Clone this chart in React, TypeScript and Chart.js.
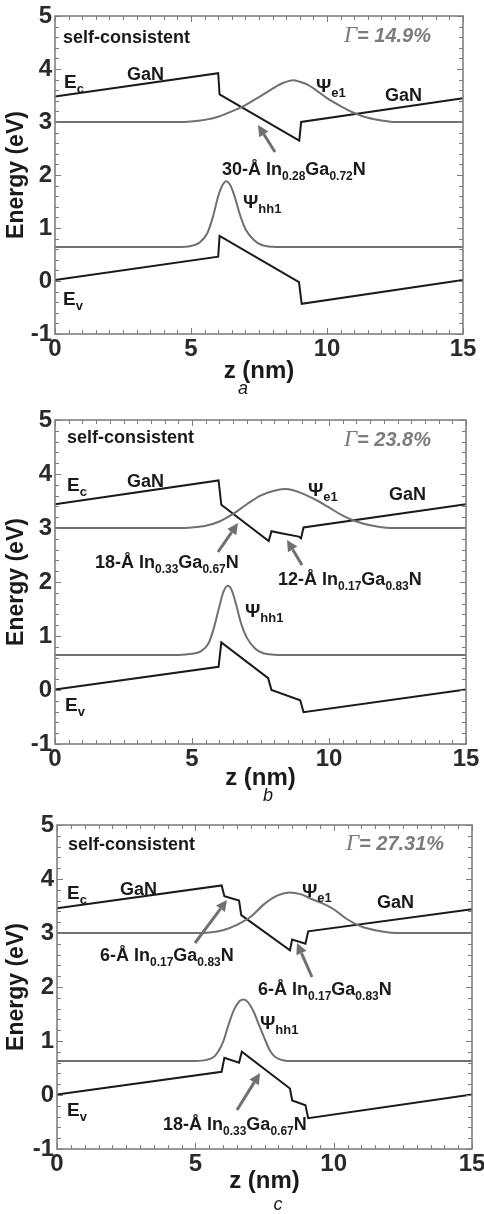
import React, { useEffect, useRef } from "react";
import { Chart, registerables } from "chart.js";
Chart.register(...registerables);

type Pt = [number, number];

const xTickValues = [0, 5, 10, 15];
const yTickValues = [-1, 0, 1, 2, 3, 4, 5];
const captions = ["a", "b", "c"];
const gammaLabels = ["14.9%", "23.8%", "27.31%"];

// ---- Panel a ----
const ecA: Pt[] = [[0, 3.48], [6.0, 3.92], [6.05, 3.52], [8.98, 2.65], [9.05, 3.0], [15, 3.45]];
const evA: Pt[] = [[0, 0.02], [6.0, 0.46], [6.05, 0.85], [8.97, -0.02], [9.07, -0.43], [15, 0.02]];
const psiEA: Pt[] = [[0, 3.0], [4.5, 3.0], [5.0, 3.01], [5.5, 3.04], [6.0, 3.1], [6.5, 3.2], [7.0, 3.32], [7.5, 3.47], [8.0, 3.63], [8.4, 3.74], [8.75, 3.79], [9.0, 3.76], [9.3, 3.7], [9.6, 3.6], [10.0, 3.45], [10.5, 3.3], [11.0, 3.17], [11.5, 3.08], [12.0, 3.03], [12.5, 3.0], [15, 3.0]];
const psiHA: Pt[] = [[0, 0.64], [4.5, 0.64], [5.0, 0.66], [5.3, 0.72], [5.6, 0.9], [5.8, 1.2], [6.0, 1.6], [6.15, 1.8], [6.3, 1.88], [6.45, 1.8], [6.6, 1.6], [6.8, 1.25], [7.0, 0.98], [7.3, 0.78], [7.6, 0.68], [8.0, 0.645], [8.3, 0.64], [15, 0.64]];

// ---- Panel b ----
const ecB: Pt[] = [[0, 3.44], [5.97, 3.88], [6.07, 3.43], [7.8, 2.76], [7.9, 2.94], [8.3, 2.9], [8.9, 2.84], [8.98, 2.81], [9.07, 3.01], [15, 3.44]];
const evB: Pt[] = [[0, 0.01], [5.97, 0.43], [6.07, 0.88], [7.78, 0.22], [7.9, 0.0], [8.95, -0.19], [9.07, -0.41], [15, 0.01]];
const psiEB: Pt[] = [[0, 3.0], [4.5, 3.0], [5.0, 3.01], [5.5, 3.04], [6.0, 3.12], [6.5, 3.26], [7.0, 3.44], [7.5, 3.6], [8.0, 3.69], [8.35, 3.72], [8.7, 3.7], [9.2, 3.6], [9.6, 3.5], [10.0, 3.38], [10.5, 3.23], [11.0, 3.12], [11.5, 3.05], [12.0, 3.01], [12.5, 3.0], [15, 3.0]];
const psiHB: Pt[] = [[0, 0.65], [4.5, 0.65], [5.0, 0.67], [5.3, 0.71], [5.6, 0.86], [5.8, 1.15], [6.0, 1.55], [6.15, 1.82], [6.3, 1.93], [6.45, 1.85], [6.6, 1.6], [6.8, 1.22], [7.0, 0.97], [7.3, 0.77], [7.6, 0.68], [8.0, 0.655], [8.4, 0.65], [15, 0.65]];

// ---- Panel c ----
const ecC: Pt[] = [[0, 3.46], [5.95, 3.88], [6.05, 3.68], [6.58, 3.6], [6.66, 3.33], [8.42, 2.68], [8.5, 2.88], [8.98, 2.8], [9.08, 3.03], [15, 3.44]];
const evC: Pt[] = [[0, 0.01], [5.95, 0.43], [6.05, 0.69], [6.58, 0.6], [6.68, 0.8], [8.42, 0.12], [8.5, -0.1], [8.98, -0.19], [9.08, -0.43], [15, 0.01]];
const psiEC: Pt[] = [[0, 3.0], [5.0, 3.0], [5.5, 3.01], [6.0, 3.05], [6.5, 3.15], [7.0, 3.3], [7.5, 3.54], [8.0, 3.7], [8.4, 3.75], [8.8, 3.72], [9.2, 3.63], [9.6, 3.55], [10.0, 3.44], [10.5, 3.25], [11.0, 3.12], [11.5, 3.05], [12.0, 3.01], [12.5, 3.0], [15, 3.0]];
const psiHC: Pt[] = [[0, 0.63], [5.0, 0.63], [5.4, 0.65], [5.7, 0.72], [6.0, 0.98], [6.2, 1.3], [6.4, 1.58], [6.6, 1.74], [6.75, 1.77], [6.9, 1.72], [7.1, 1.55], [7.3, 1.3], [7.5, 1.05], [7.7, 0.82], [7.9, 0.7], [8.2, 0.64], [8.5, 0.63], [15, 0.63]];

const SANS = "'Liberation Sans', Arial, sans-serif";
const SERIF = "'Liberation Serif', 'Times New Roman', serif";
const INK = "#1a1a1a";
const GRAY = "#707070";

type Part = { t: string; sub?: boolean };
type Note =
  | { kind: "text"; x: number; y: number; parts: Part[]; size?: number }
  | { kind: "gamma"; x: number; y: number; value: string }
  | { kind: "arrow"; x1: number; y1: number; x2: number; y2: number };

const inLabel = (w: string, a: string, b: string): Part[] => [
  { t: w + "-Å In" }, { t: a, sub: true }, { t: "Ga" }, { t: b, sub: true }, { t: "N" },
];

const panels = [
  {
    top: 0, height: 400, left: 55, right: 463, areaTop: 16, areaBottom: 334, titlePad: 14,
    captionX: 243, captionY: 394,
    ec: ecA, ev: evA, pe: psiEA, ph: psiHA, gamma: gammaLabels[0], caption: captions[0],
    notes: [
      { kind: "text", x: 63, y: 43, parts: [{ t: "self-consistent" }] },
      { kind: "gamma", x: 344, y: 42, value: gammaLabels[0] },
      { kind: "text", x: 64, y: 88, parts: [{ t: "E" }, { t: "c", sub: true }], size: 19 },
      { kind: "text", x: 127, y: 80, parts: [{ t: "GaN" }] },
      { kind: "text", x: 316, y: 92, parts: [{ t: "Ψ" }, { t: "e1", sub: true }], size: 19 },
      { kind: "text", x: 385, y: 101, parts: [{ t: "GaN" }] },
      { kind: "text", x: 222, y: 175, parts: inLabel("30", "0.28", "0.72") },
      { kind: "arrow", x1: 275, y1: 152, x2: 258, y2: 125 },
      { kind: "text", x: 243, y: 208, parts: [{ t: "Ψ" }, { t: "hh1", sub: true }], size: 19 },
      { kind: "text", x: 63, y: 305, parts: [{ t: "E" }, { t: "v", sub: true }], size: 19 },
    ] as Note[],
  },
  {
    top: 400, height: 405, left: 55, right: 466, areaTop: 20, areaBottom: 344, titlePad: 12,
    captionX: 268, captionY: 401,
    ec: ecB, ev: evB, pe: psiEB, ph: psiHB, gamma: gammaLabels[1], caption: captions[1],
    notes: [
      { kind: "text", x: 67, y: 443, parts: [{ t: "self-consistent" }] },
      { kind: "gamma", x: 344, y: 446, value: gammaLabels[1] },
      { kind: "text", x: 67, y: 491, parts: [{ t: "E" }, { t: "c", sub: true }], size: 19 },
      { kind: "text", x: 127, y: 487, parts: [{ t: "GaN" }] },
      { kind: "text", x: 308, y: 496, parts: [{ t: "Ψ" }, { t: "e1", sub: true }], size: 19 },
      { kind: "text", x: 389, y: 500, parts: [{ t: "GaN" }] },
      { kind: "text", x: 95, y: 568, parts: inLabel("18", "0.33", "0.67") },
      { kind: "arrow", x1: 218, y1: 552, x2: 238, y2: 523 },
      { kind: "text", x: 278, y: 585, parts: inLabel("12", "0.17", "0.83") },
      { kind: "arrow", x1: 302, y1: 565, x2: 287, y2: 540 },
      { kind: "text", x: 245, y: 617, parts: [{ t: "Ψ" }, { t: "hh1", sub: true }], size: 19 },
      { kind: "text", x: 65, y: 711, parts: [{ t: "E" }, { t: "v", sub: true }], size: 19 },
    ] as Note[],
  },
  {
    top: 805, height: 409, left: 57, right: 472, areaTop: 20, areaBottom: 344, titlePad: 18,
    captionX: 278, captionY: 405,
    ec: ecC, ev: evC, pe: psiEC, ph: psiHC, gamma: gammaLabels[2], caption: captions[2],
    notes: [
      { kind: "text", x: 68, y: 850, parts: [{ t: "self-consistent" }] },
      { kind: "gamma", x: 346, y: 850, value: gammaLabels[2] },
      { kind: "text", x: 67, y: 899, parts: [{ t: "E" }, { t: "c", sub: true }], size: 19 },
      { kind: "text", x: 120, y: 895, parts: [{ t: "GaN" }] },
      { kind: "text", x: 302, y: 897, parts: [{ t: "Ψ" }, { t: "e1", sub: true }], size: 19 },
      { kind: "text", x: 377, y: 908, parts: [{ t: "GaN" }] },
      { kind: "text", x: 100, y: 961, parts: inLabel("6", "0.17", "0.83") },
      { kind: "arrow", x1: 195, y1: 943, x2: 227, y2: 900 },
      { kind: "text", x: 258, y: 995, parts: inLabel("6", "0.17", "0.83") },
      { kind: "arrow", x1: 312, y1: 977, x2: 297, y2: 943 },
      { kind: "text", x: 260, y: 1029, parts: [{ t: "Ψ" }, { t: "hh1", sub: true }], size: 19 },
      { kind: "text", x: 67, y: 1116, parts: [{ t: "E" }, { t: "v", sub: true }], size: 19 },
      { kind: "text", x: 163, y: 1130, parts: inLabel("18", "0.33", "0.67") },
      { kind: "arrow", x1: 237, y1: 1110, x2: 260, y2: 1073 },
    ] as Note[],
  },
];

type Panel = (typeof panels)[number];

function drawParts(ctx: CanvasRenderingContext2D, x: number, y: number, parts: Part[], size: number) {
  let cx = x;
  for (const p of parts) {
    const s = p.sub ? Math.round(size * 0.68) : size;
    ctx.font = `bold ${s}px ${SANS}`;
    ctx.fillText(p.t, cx, p.sub ? y + size * 0.28 : y);
    cx += ctx.measureText(p.t).width;
  }
}

function drawArrow(ctx: CanvasRenderingContext2D, x1: number, y1: number, x2: number, y2: number) {
  const ang = Math.atan2(y2 - y1, x2 - x1);
  const head = 11;
  const hw = 5.5;
  const bx = x2 - head * Math.cos(ang);
  const by = y2 - head * Math.sin(ang);
  ctx.save();
  ctx.strokeStyle = GRAY;
  ctx.fillStyle = GRAY;
  ctx.lineWidth = 3;
  ctx.beginPath();
  ctx.moveTo(x1, y1);
  ctx.lineTo(bx, by);
  ctx.stroke();
  ctx.beginPath();
  ctx.moveTo(x2, y2);
  ctx.lineTo(bx + hw * Math.sin(ang), by - hw * Math.cos(ang));
  ctx.lineTo(bx - hw * Math.sin(ang), by + hw * Math.cos(ang));
  ctx.closePath();
  ctx.fill();
  ctx.restore();
}

function makePlugin(panel: Panel) {
  return {
    id: "decor",
    afterDatasetsDraw(chart: any) {
      const ctx: CanvasRenderingContext2D = chart.ctx;
      const { left, right, top, bottom } = chart.chartArea;
      const xs = chart.scales.x;
      const ys = chart.scales.y;
      ctx.save();
      // minor + major ticks on all four sides (inward)
      ctx.strokeStyle = "#7a7a7a";
      ctx.lineWidth = 1;
      ctx.beginPath();
      for (let i = 0; i <= 30; i++) {
        const v = i * 0.5;
        const px = Math.round(xs.getPixelForValue(v)) + 0.5;
        const len = i % 10 === 0 ? 6 : 4;
        ctx.moveTo(px, bottom);
        ctx.lineTo(px, bottom - len);
        ctx.moveTo(px, top);
        ctx.lineTo(px, top + len);
      }
      for (let i = 0; i <= 30; i++) {
        const v = -1 + i * 0.2;
        const py = Math.round(ys.getPixelForValue(v)) + 0.5;
        const len = i % 5 === 0 ? 6 : 4;
        ctx.moveTo(left, py);
        ctx.lineTo(left + len, py);
        ctx.moveTo(right, py);
        ctx.lineTo(right - len, py);
      }
      ctx.stroke();
      // frame
      ctx.strokeStyle = "#808080";
      ctx.lineWidth = 1.6;
      ctx.strokeRect(left, top, right - left, bottom - top);

      // annotations
      ctx.textBaseline = "alphabetic";
      ctx.textAlign = "left";
      for (const n of panel.notes) {
        if (n.kind === "text") {
          ctx.fillStyle = INK;
          drawParts(ctx, n.x, n.y - panel.top, n.parts, n.size ?? 18);
        } else if (n.kind === "gamma") {
          ctx.fillStyle = "#7c7c7c";
          ctx.font = `italic 23px ${SERIF}`;
          ctx.fillText("Γ", n.x, n.y - panel.top);
          const w = ctx.measureText("Γ").width;
          ctx.font = `italic bold 20px ${SANS}`;
          ctx.fillText("= " + n.value, n.x + w, n.y - panel.top);
        } else {
          drawArrow(ctx, n.x1, n.y1 - panel.top, n.x2, n.y2 - panel.top);
        }
      }
      // caption
      ctx.fillStyle = INK;
      ctx.textAlign = "center";
      ctx.font = `italic 18px ${SANS}`;
      ctx.fillText(panel.caption, panel.captionX, panel.captionY);
      ctx.restore();
    },
  };
}

const toXY = (pts: Pt[]) => pts.map(([x, y]) => ({ x, y }));

function PanelChart({ panel }: { panel: Panel }) {
  const ref = useRef<HTMLCanvasElement | null>(null);
  useEffect(() => {
    if (!ref.current) return;
    const tickFont = { family: SANS, size: 24, weight: "bold" as const };
    const chart = new Chart(ref.current, {
      type: "line",
      data: {
        datasets: [
          { label: "psi_e1", data: toXY(panel.pe), borderColor: GRAY, borderWidth: 2, pointRadius: 0, cubicInterpolationMode: "monotone" },
          { label: "psi_hh1", data: toXY(panel.ph), borderColor: GRAY, borderWidth: 2, pointRadius: 0, cubicInterpolationMode: "monotone" },
          { label: "Ec", data: toXY(panel.ec), borderColor: INK, borderWidth: 2, pointRadius: 0, tension: 0 },
          { label: "Ev", data: toXY(panel.ev), borderColor: INK, borderWidth: 2, pointRadius: 0, tension: 0 },
        ],
      },
      options: {
        animation: false,
        responsive: false,
        maintainAspectRatio: false,
        layout: { padding: { left: 0, right: 484 - panel.right, top: panel.areaTop, bottom: 0 } },
        plugins: { legend: { display: false }, tooltip: { enabled: false }, title: { display: false } },
        scales: {
          x: {
            type: "linear",
            min: 0,
            max: 15,
            afterBuildTicks: (s: any) => { s.ticks = xTickValues.map((v) => ({ value: v })); },
            afterFit: (s: any) => { s.height = panel.height - panel.areaBottom; s.paddingLeft = 0; s.paddingRight = 0; },
            grid: { display: false, drawTicks: false },
            border: { display: false },
            ticks: { font: tickFont, color: "#2a2a2a", padding: 1, maxRotation: 0 },
            title: { display: true, text: "z (nm)", font: { family: SANS, size: 24, weight: "bold" }, color: INK, padding: { top: 0, bottom: panel.titlePad } },
          },
          y: {
            type: "linear",
            min: -1,
            max: 5,
            afterBuildTicks: (s: any) => { s.ticks = yTickValues.map((v) => ({ value: v })); },
            afterFit: (s: any) => { s.width = panel.left; s.paddingTop = 0; s.paddingBottom = 0; },
            grid: { display: false, drawTicks: false },
            border: { display: false },
            ticks: { font: tickFont, color: "#2a2a2a", padding: 3 },
            title: { display: true, text: "Energy (eV)", font: { family: SANS, size: 23, weight: "bold" }, color: INK, padding: { top: 3, bottom: 0 } },
          },
        },
      },
      plugins: [makePlugin(panel)],
    } as any);
    return () => chart.destroy();
  }, [panel]);
  return (
    <canvas
      ref={ref}
      width={484}
      height={panel.height}
      style={{ position: "absolute", left: 0, top: panel.top, width: 484, height: panel.height }}
    />
  );
}

export default function App() {
  return (
    <div style={{ position: "absolute", left: 0, top: 0, width: 484, height: 1214, background: "#fff", overflow: "hidden" }}>
      {panels.map((p, i) => (
        <PanelChart key={i} panel={p} />
      ))}
    </div>
  );
}
